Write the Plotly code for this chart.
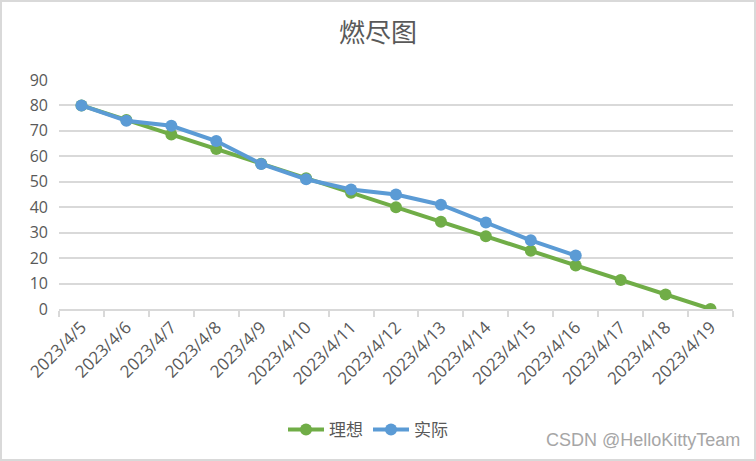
import plotly.graph_objects as go

# ── data ─────────────────────────────────────────────────────────────

dates = [
    "2023/4/5", "2023/4/6", "2023/4/7", "2023/4/8", "2023/4/9",
    "2023/4/10", "2023/4/11", "2023/4/12", "2023/4/13", "2023/4/14",
    "2023/4/15", "2023/4/16", "2023/4/17", "2023/4/18", "2023/4/19",
]
ideal = [80, 74.3, 68.6, 62.9, 57.1, 51.4, 45.7, 40, 34.3, 28.6, 22.9, 17.1, 11.4, 5.7, 0]
actual = [80, 74, 72, 66, 57, 51, 47, 45, 41, 34, 27, 21]
y_ticks = [0, 10, 20, 30, 40, 50, 60, 70, 80, 90]

GREEN = "#70ad47"
BLUE = "#5b9bd5"
GREY_TXT = "#595959"
GRID = "#d9d9d9"
FONT = "Open Sans, Noto Sans CJK SC, sans-serif"

# ── chart ────────────────────────────────────────────────────────────

fig = go.Figure()
fig.add_trace(
    go.Scatter(
        x=dates,
        y=ideal,
        name="理想",
        mode="lines+markers",
        line={"color": GREEN, "width": 4},
        marker={"size": 12, "color": GREEN},
    )
)
fig.add_trace(
    go.Scatter(
        x=dates[: len(actual)],
        y=actual,
        name="实际",
        mode="lines+markers",
        line={"color": BLUE, "width": 4},
        marker={"size": 12, "color": BLUE},
    )
)

L, R, T, B = 59, 23, 80, 152
W, H = 756, 461
pw, ph = W - L - R, H - T - B

fig.update_layout(
    width=W,
    height=H,
    margin={"l": L, "r": R, "t": T, "b": B, "autoexpand": False},
    paper_bgcolor="white",
    plot_bgcolor="white",
    font={"family": FONT, "color": GREY_TXT, "size": 15},
    title={
        "text": "燃尽图",
        "x": 0.5,
        "xanchor": "center",
        "y": 1 - 33 / H,
        "yanchor": "middle",
        "font": {"family": "Noto Sans CJK SC", "size": 26, "color": GREY_TXT},
    },
    showlegend=True,
    legend={
        "orientation": "h",
        "x": 0.5 - 28 / pw,
        "xanchor": "center",
        "y": -(430 - T - ph) / ph,
        "yanchor": "middle",
        "font": {"family": "Noto Sans CJK SC", "size": 17, "color": GREY_TXT},
        "itemwidth": 36,
    },
    xaxis={
        "type": "category",
        "categoryorder": "array",
        "categoryarray": dates,
        "tickangle": -45,
        "tickson": "boundaries",
        "ticks": "outside",
        "ticklen": 6,
        "tickcolor": GRID,
        "tickwidth": 1.5,
        "showline": True,
        "linecolor": GRID,
        "linewidth": 1.5,
        "showgrid": False,
        "tickfont": {"size": 17, "color": GREY_TXT},
        "range": [-0.5, len(dates) - 0.5],
    },
    yaxis={
        "range": [0, 90],
        "tickvals": y_ticks,
        "showgrid": True,
        "gridcolor": GRID,
        "gridwidth": 1.5,
        "zeroline": False,
        "showline": False,
        "ticks": "",
        "ticklabelstandoff": 10,
        "tickfont": {"size": 16, "color": GREY_TXT},
    },
    shapes=[
        {
            "type": "rect",
            "xref": "paper",
            "yref": "paper",
            "x0": -(L - 1) / pw,
            "x1": 1 + (R - 1) / pw,
            "y0": -(B - 1) / ph,
            "y1": 1 + (T - 1) / ph,
            "line": {"color": GRID, "width": 2},
        }
    ],
    annotations=[
        {
            "text": "CSDN @HelloKittyTeam",
            "xref": "paper",
            "yref": "paper",
            "x": 1 + (742 - L - pw) / pw,
            "xanchor": "right",
            "y": -(440 - T - ph) / ph,
            "yanchor": "middle",
            "showarrow": False,
            "font": {"family": "Liberation Sans, Arial", "size": 18, "color": "#a6a6a6"},
        }
    ],
)

fig.write_html(
    "out.html",
    config={"displayModeBar": False},
    post_script="document.body.style.margin='0';document.body.style.padding='0';",
)
